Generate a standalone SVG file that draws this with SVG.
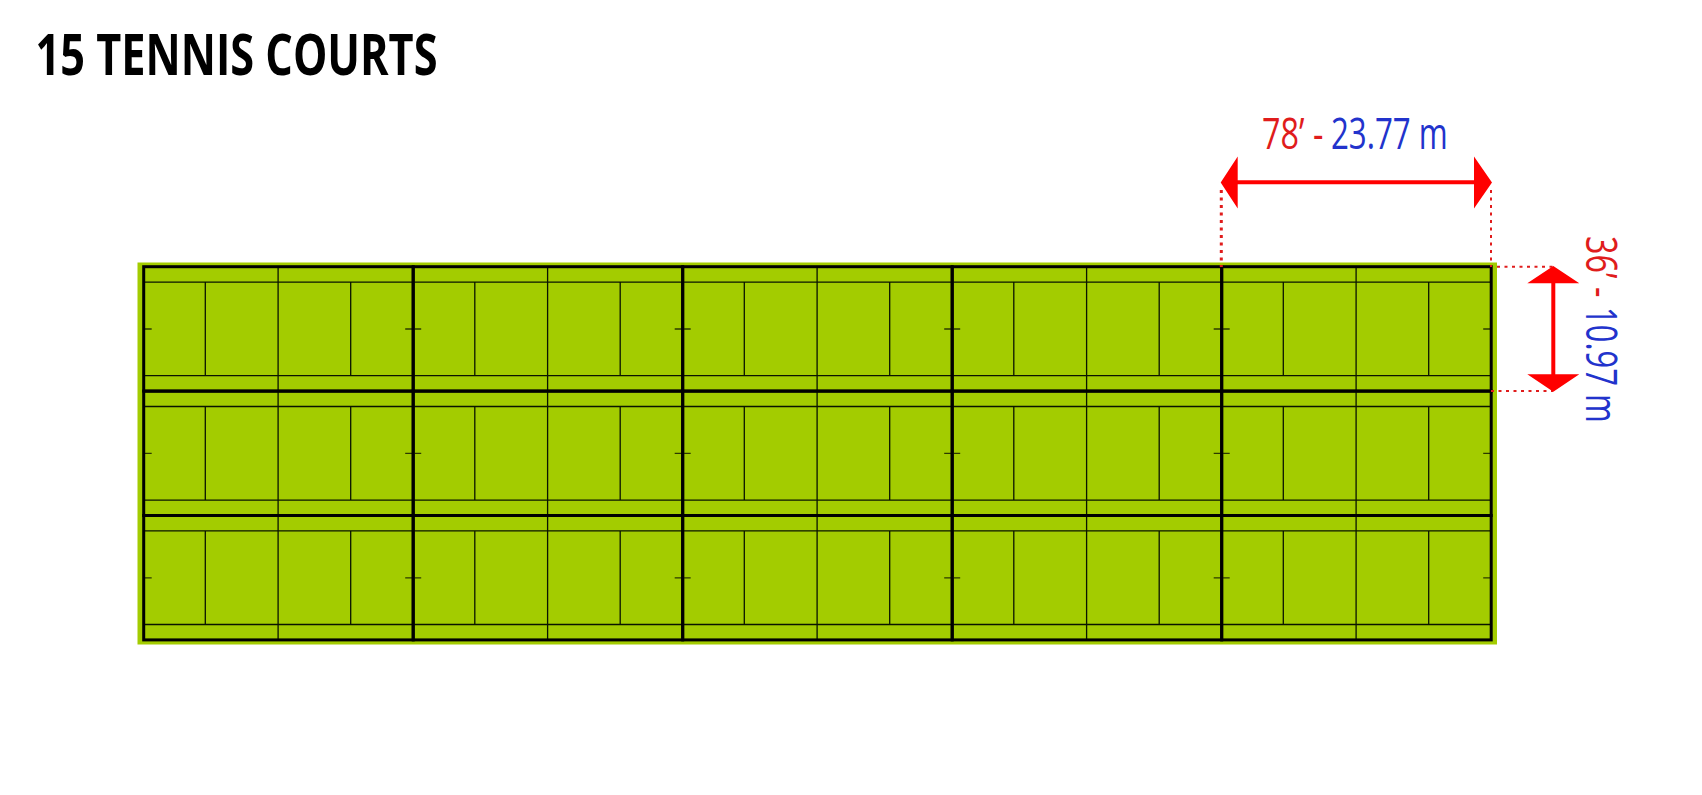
<svg xmlns="http://www.w3.org/2000/svg" width="1702" height="795" viewBox="0 0 1702 795">
<style>
.field{fill:#a3cc00}
.thin{fill:none;stroke:#0a1400;stroke-width:1.3}
.thick{fill:none;stroke:#000;stroke-width:3}
.tick{fill:none;stroke:#2c3a00;stroke-width:1.3}
.dim{fill:none;stroke:#f00;stroke-width:4}
.head{fill:#f00}
.dot{fill:none;stroke:#e01c1c;stroke-width:2;stroke-dasharray:3 4.5}
.lbl{font-family:"Open Sans","Liberation Sans",sans-serif;font-size:43px}
.title{font-family:"Open Sans","Liberation Sans",sans-serif;font-size:57.5px;font-weight:700;fill:#000}
.r{fill:#e01c1c}.b{fill:#2233cc}
</style>
<defs>
<g id="court">
<path class="thin" d="M0 15.4H269.5M0 109H269.5M61.6 15.4V109M207 15.4V109M134.4 0V124.4"/>
<path class="tick" d="M0 62.3H8M261.5 62.3H269.5"/>
<rect class="thick" width="269.5" height="124.4"/>
</g>
</defs>
<text id="title" class="title" x="35.5" y="75" textLength="402" lengthAdjust="spacingAndGlyphs">15 TENNIS COURTS</text>
<rect id="field" class="field" x="137.5" y="262.5" width="1359.5" height="382"/>
<g id="courts">
<g id="court-1-1"><use href="#court" x="143.7" y="266.7"/></g>
<g id="court-1-2"><use href="#court" x="413.2" y="266.7"/></g>
<g id="court-1-3"><use href="#court" x="682.7" y="266.7"/></g>
<g id="court-1-4"><use href="#court" x="952.2" y="266.7"/></g>
<g id="court-1-5"><use href="#court" x="1221.7" y="266.7"/></g>
<g id="court-2-1"><use href="#court" x="143.7" y="391.1"/></g>
<g id="court-2-2"><use href="#court" x="413.2" y="391.1"/></g>
<g id="court-2-3"><use href="#court" x="682.7" y="391.1"/></g>
<g id="court-2-4"><use href="#court" x="952.2" y="391.1"/></g>
<g id="court-2-5"><use href="#court" x="1221.7" y="391.1"/></g>
<g id="court-3-1"><use href="#court" x="143.7" y="515.5"/></g>
<g id="court-3-2"><use href="#court" x="413.2" y="515.5"/></g>
<g id="court-3-3"><use href="#court" x="682.7" y="515.5"/></g>
<g id="court-3-4"><use href="#court" x="952.2" y="515.5"/></g>
<g id="court-3-5"><use href="#court" x="1221.7" y="515.5"/></g>
</g>
<g id="connectors">
<path class="dot" style="stroke-width:3" d="M1221.3 190V267"/>
<path class="dot" d="M1491 190V267M1497 266.7H1553M1491 391H1553"/>
<path class="dim" d="M1235 182.3H1477"/>
<path class="head" d="M1220.7 182.5L1237.7 156.5V208.5ZM1492 182.5L1474 156.5V208.5Z"/>
<path class="dim" d="M1553.3 280V378"/>
<path class="head" d="M1553.3 266L1579.3 283.3H1527.3ZM1553.3 391.7L1579.3 374.3H1527.3Z"/>
</g>
<g id="label-length">
<text class="lbl r" transform="translate(1262 149) scale(.753 1)">78’ -</text>
<text class="lbl b" transform="translate(1331 149) scale(.727 1)">23.77 m</text>
</g>
<g id="label-width">
<text class="lbl r" transform="translate(1586 236) rotate(90) scale(.753 1)">36’ -</text>
<text class="lbl b" transform="translate(1586 307) rotate(90) scale(.72 1)">10.97 m</text>
</g>
</svg>
